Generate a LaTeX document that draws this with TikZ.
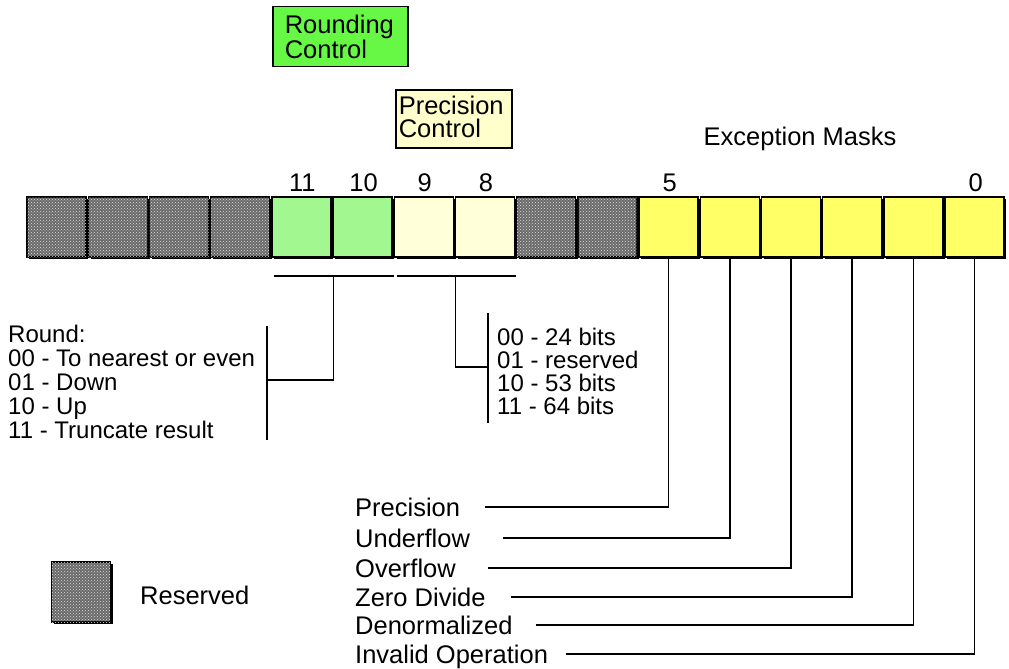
\documentclass[tikz,border=0pt]{standalone}
\usepackage{fontspec}
\setmainfont{Liberation Sans}
\usetikzlibrary{patterns,shadows}
\definecolor{rcgreen}{HTML}{66F844}
\definecolor{cellgreen}{HTML}{A2F790}
\definecolor{pcream}{HTML}{FFFFCC}
\definecolor{cellcream}{HTML}{FFFFDA}
\definecolor{cellyellow}{HTML}{FFFF66}
\definecolor{resgray}{HTML}{6A6A6A}
\begin{document}
\begin{tikzpicture}[x=1pt,y=-1pt,
  every node/.style={font=\fontsize{25.5}{29}\selectfont, inner sep=0pt},
  cellbox/.style={draw=black, line width=1.3pt, minimum width=59pt, minimum height=60pt,
    drop shadow={shadow xshift=2.2pt, shadow yshift=-2.4pt, fill=black, opacity=1}},
  rescell/.style={cellbox, fill=resgray, postaction={pattern=crosshatch dots, pattern color=white!75!gray}},
  grncell/.style={cellbox, fill=cellgreen},
  crmcell/.style={cellbox, fill=cellcream},
  ylwcell/.style={cellbox, fill=cellyellow},
  wire/.style={draw=black, line width=1.6pt},
  lbl/.style={anchor=base west, text height=18.2pt, text depth=0pt}
]
\useasboundingbox (0,0) rectangle (1009,669);

% register cells
\foreach \i/\s in {0/rescell,1/rescell,2/rescell,3/rescell,4/grncell,5/grncell,6/crmcell,7/crmcell,8/rescell,9/rescell,10/ylwcell,11/ylwcell,12/ylwcell,13/ylwcell,14/ylwcell,15/ylwcell}{
  \node[\s] (c\i) at ({27+61.2*(\i+0.5)-1}, 227) {};
}

% bit numbers
\node (b11) at (302.4,183) {11};
\node (b10) at (363.6,183) {10};
\node (b9)  at (424.8,183) {9};
\node (b8)  at (486,183) {8};
\node (b5)  at (669.6,183) {5};
\node (b0)  at (975.6,183) {0};
\node (exm) at (800,139) {Exception Masks};

% field boxes
\node[draw, line width=1.5pt, fill=rcgreen, text width=111pt, inner xsep=12pt,
      minimum height=60pt, align=left, font=\fontsize{25.5}{23}\selectfont,
      anchor=north west] (rcbox) at (272,6) {Rounding\\Control};
\node[draw, line width=1.5pt, fill=pcream, inner xsep=3pt, inner ysep=6pt,
      text depth=28pt, anchor=north west] (pcbox) at (395,89)
      {\parbox[t]{110pt}{\fontsize{25.5}{23}\selectfont Precision\\Control}};

% rounding bracket
\coordinate (rl) at (274,276);
\coordinate (rr) at (394,276);
\coordinate (rm) at (333.6,276);
\coordinate (rc) at (267,380);
\coordinate (rt) at (267,326);
\coordinate (rb) at (267,440);
\draw[wire] (rl) -- (rr);
\draw[wire] (rm) |- (rc);
\draw[wire] (rt) -- (rb);

% precision bracket
\coordinate (pl) at (397,276);
\coordinate (pr) at (516,276);
\coordinate (pm) at (455.4,276);
\coordinate (pc) at (488,367);
\coordinate (pt) at (488,313);
\coordinate (pb) at (488,423);
\draw[wire] (pl) -- (pr);
\draw[wire] (pm) |- (pc);
\draw[wire] (pt) -- (pb);

% rounding list
\node[anchor=north west, align=left, font=\fontsize{24}{24}\selectfont] (rlist) at (8,325)
  {Round:\\00 - To nearest or even\\01 - Down\\10 - Up\\11 - Truncate result};
% precision list
\node[anchor=north west, align=left, font=\fontsize{24}{23}\selectfont] (plist) at (497,328)
  {00 - 24 bits\\01 - reserved\\10 - 53 bits\\11 - 64 bits};

% exception labels
\node[lbl] (lpe) at (355,516) {Precision};
\node[lbl] (lue) at (355,547) {Underflow};
\node[lbl] (loe) at (355,577) {Overflow};
\node[lbl] (lze) at (355,606) {Zero Divide};
\node[lbl] (lde) at (355,634) {Denormalized};
\node[lbl] (lie) at (355,663) {Invalid Operation};

\draw[wire] ([xshift=25pt]lpe.east) -| (c10.south);
\draw[wire] ([xshift=33pt]lue.east) -| (c11.south);
\draw[wire] ([xshift=32pt]loe.east) -| (c12.south);
\draw[wire] ([xshift=25pt]lze.east) -| (c13.south);
\draw[wire] ([xshift=23pt]lde.east) -| (c14.south);
\draw[wire] ([xshift=18pt]lie.east) -| (c15.south);

% legend
\node[rescell] (leg) at (81,592) {};
\node[anchor=west] (legt) at (140,595) {Reserved};
\end{tikzpicture}
\end{document}
